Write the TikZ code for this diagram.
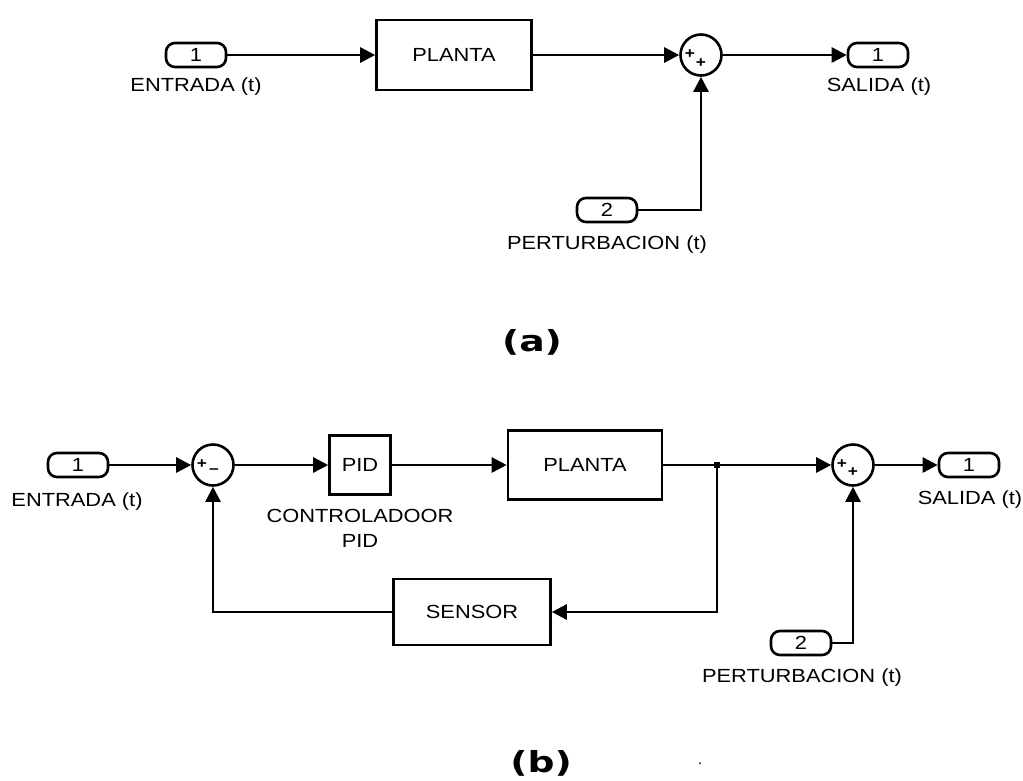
\documentclass[tikz,border=0pt]{standalone}
\usepackage{fontspec}
\newfontfamily\lbl{Liberation Sans}[FakeStretch=1.15]
\newfontfamily\heavy{DejaVu Sans}[FakeStretch=1.3]
\usetikzlibrary{arrows.meta}
\tikzset{
  wire/.style={line width=2.6pt},
  arr/.style={wire,-{Triangle[length=15pt,width=15pt]}},
  txt/.style={font=\lbl\fontsize{19}{25}\selectfont},
  blk/.style={draw,line width=2.6pt,rectangle,inner sep=0pt,txt},
  port/.style={draw,line width=2.6pt,rounded corners=9pt,minimum width=60pt,minimum height=24pt,inner sep=0pt,txt},
  sumc/.style={draw,line width=2.6pt,circle,minimum size=41pt,inner sep=0pt},
  lab/.style={txt,inner sep=0pt,align=center},
  sgn/.style={font=\lbl\bfseries\fontsize{15}{15}\selectfont,inner sep=0pt},
  capt/.style={font=\heavy\bfseries\fontsize{29}{30}\selectfont,inner sep=0pt},
}
\begin{document}
\begin{tikzpicture}[x=1pt,y=-1pt]
\useasboundingbox (0,0) rectangle (1023,780);
% ---------- (a) ----------
\node[port] (in1) at (196,55) {1};
\node[lab] (in1l) at (196,87) {ENTRADA (t)};
\node[blk,minimum width=155pt,minimum height=70pt] (pa) at (454,55) {PLANTA};
\node[sumc] (sa) at (701,55) {};
\node[sgn] (sa1) at (690,54) {+};
\node[sgn] (sa2) at (701,63) {+};
\node[port] (out1) at (878,55) {1};
\node[lab] (out1l) at (879,87) {SALIDA (t)};
\node[port] (pert1) at (607,210) {2};
\node[lab] (pert1l) at (607,245) {PERTURBACION (t)};
\draw[arr] (in1) -- (pa);
\draw[arr] (pa) -- (sa);
\draw[arr] (sa) -- (out1);
\draw[arr] (pert1.east) -| (sa.south);
\node[capt] (capa) at (532,342) {(a)};
% ---------- (b) ----------
\node[port] (in2) at (78,465) {1};
\node[lab] (in2l) at (77,502) {ENTRADA (t)};
\node[sumc] (sb1) at (213,465) {};
\node[sgn] (sb1a) at (202,464) {+};
\node[sgn] (sb1b) at (214,471) {–};
\node[blk,minimum width=61pt,minimum height=59pt] (pid) at (360,465) {PID};
\node[lab] (pidl) at (360,528) {CONTROLADOOR\\PID};
\node[blk,minimum width=154pt,minimum height=69pt] (pb) at (585,465) {PLANTA};
\node[fill,rectangle,minimum size=6pt,inner sep=0pt] (jd) at (717,465) {};
\node[sumc] (sb2) at (853,465) {};
\node[sgn] (sb2a) at (842,464) {+};
\node[sgn] (sb2b) at (853,472) {+};
\node[port] (out2) at (969,465) {1};
\node[lab] (out2l) at (970,500) {SALIDA (t)};
\node[blk,minimum width=157pt,minimum height=66pt] (sens) at (472,612) {SENSOR};
\node[port] (pert2) at (801,643) {2};
\node[lab] (pert2l) at (802,678) {PERTURBACION (t)};
\draw[arr] (in2) -- (sb1);
\draw[arr] (sb1) -- (pid);
\draw[arr] (pid) -- (pb);
\draw[wire] (pb) -- (jd.center);
\draw[arr] (jd.center) -- (sb2);
\draw[arr] (sb2) -- (out2);
\draw[arr] (jd.center) |- (sens.east);
\draw[arr] (sens.west) -| (sb1.south);
\draw[arr] (pert2.east) -| (sb2.south);
\node[capt] (capb) at (541,763) {(b)};
\node[fill,circle,minimum size=2pt,inner sep=0pt] (speck) at (700,763) {};
\end{tikzpicture}
\end{document}
